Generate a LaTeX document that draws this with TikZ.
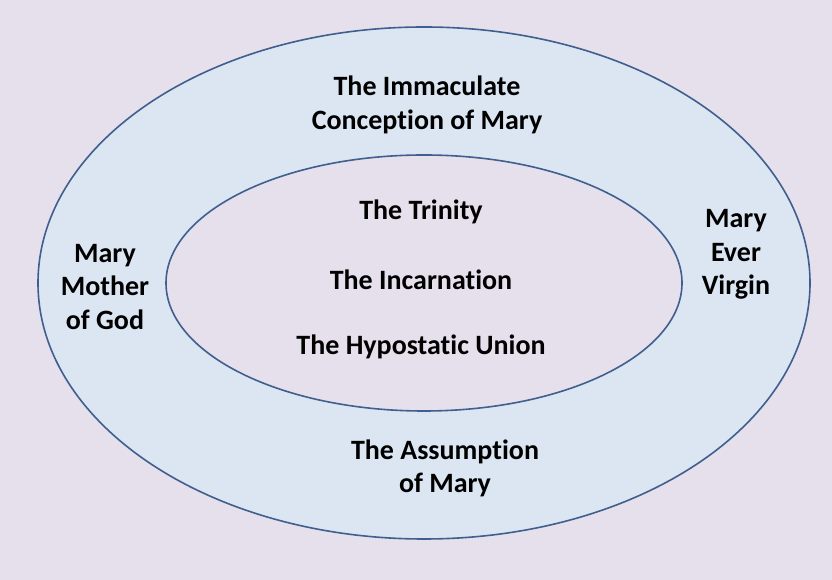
\documentclass[tikz,border=0pt]{standalone}
\usepackage{fontspec}
\setsansfont{Carlito}[Ligatures={NoCommon}]
\usepackage{tikz}
\usetikzlibrary{shapes}
\definecolor{backlilac}{HTML}{E6E0EC}
\definecolor{ringblue}{HTML}{DCE6F2}
\definecolor{rimblue}{HTML}{3F5F8E}
\tikzstyle{ring}=[ellipse,
	inner sep=0pt,
	line width=1.6pt,
	draw=rimblue]
\tikzstyle{dogma}=[align=center,
	inner sep=0pt,
	text=black,
	font=\sffamily\bfseries\fontsize{28}{33.5}\selectfont]

\begin{document}
\begin{tikzpicture}[x=1pt,y=1pt,node distance=67.5pt]
	\fill[backlilac] (0,0) rectangle (832,580);
	\useasboundingbox (0,0) rectangle (832,580);
	\node (outer) [ring, fill=ringblue, minimum width=772pt, minimum height=512pt] at (424,297) {};
	\node (inner) [ring, fill=backlilac, minimum width=516pt, minimum height=256pt] at (424,297) {};

	\node (trinity) [dogma] at (421,368) {The Trinity};
	\node (incarnation) [dogma, below of=trinity] {The Incarnation};
	\node (hypostatic) [dogma, below of=incarnation] {The Hypostatic Union};

	\node (immaculate) [dogma] at (427,475) {The Immaculate\\Conception of Mary};
	\node (assumption) [dogma] at (445,111.5) {The Assumption\\of Mary};
	\node (mother) [dogma] at (105,293) {Mary\\Mother\\of God};
	\node (virgin) [dogma] at (736,325.5) {Mary\\Ever\\Virgin};
\end{tikzpicture}
\end{document}
